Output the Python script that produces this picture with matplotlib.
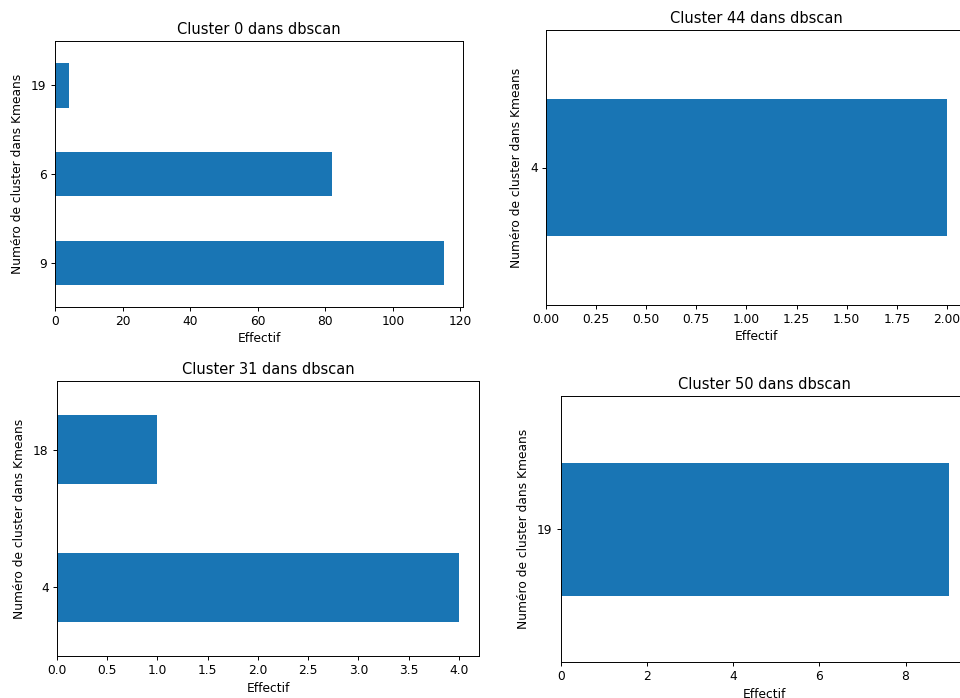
import matplotlib
matplotlib.use("Agg")
import matplotlib.pyplot as plt

# counts of kmeans clusters inside each dbscan cluster
titles = ["Cluster 0 dans dbscan", "Cluster 44 dans dbscan",
          "Cluster 31 dans dbscan", "Cluster 50 dans dbscan"]
labels_0 = ["9", "6", "19"]
counts_0 = [115, 82, 4]
labels_44 = ["4"]
counts_44 = [2]
labels_31 = ["4", "18"]
counts_31 = [4, 1]
labels_50 = ["19"]
counts_50 = [9]

W, H = 960, 698
# pixel boxes (left, top, right, bottom) of each panel in the composite
boxes = [(55, 41, 463, 307), (546, 30, 967, 305),
         (57, 381, 479, 656), (561, 396, 968, 662)]
data = [(labels_0, counts_0), (labels_44, counts_44),
        (labels_31, counts_31), (labels_50, counts_50)]

plt.rcParams["font.family"] = "DejaVu Sans"
plt.rcParams["axes.linewidth"] = 0.7

fig = plt.figure(figsize=(W / 100, H / 100), dpi=100)

for (l, t, r, b), (labs, vals), title in zip(boxes, data, titles):
    ax = fig.add_axes([l / W, 1 - b / H, (r - l) / W, (b - t) / H])
    pos = list(range(len(vals)))
    ax.barh(pos, vals, height=0.5, color="#1975b4")
    ax.set_yticks(pos)
    ax.set_yticklabels(labs)
    ax.set_ylim(-0.5, len(vals) - 0.5)
    ax.set_xlim(0, max(vals) * 1.05)
    ax.tick_params(labelsize=8.8, length=3, width=0.7, pad=3)
    ax.set_xlabel("Effectif", fontsize=8.8, labelpad=3)
    ax.set_ylabel("Numéro de cluster dans Kmeans", fontsize=8.8, labelpad=5)
    ax.set_title(title, fontsize=10.5, pad=5)

fig.savefig("out.png", dpi=100)
